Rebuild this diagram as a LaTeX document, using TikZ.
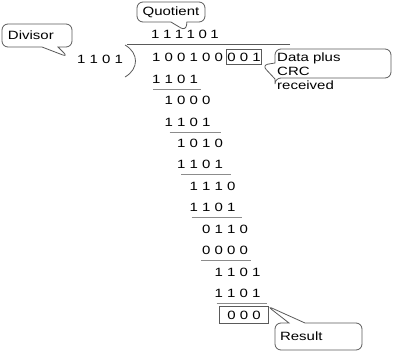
\documentclass[tikz,border=0pt]{standalone}
\usepackage{fontspec}
\setmainfont{Liberation Sans}[FakeStretch=1.25]
\usetikzlibrary{shapes.callouts}
\newcommand{\qgap}{\kern3.5pt}

\begin{document}
\begin{tikzpicture}[
  x=1pt, y=-1pt,
  font=\fontsize{12}{14}\selectfont,
  bits/.style={anchor=west, inner sep=0pt},
  bubble/.style={rectangle callout, rounded corners=6pt, draw=boxGray,
    line width=0.8pt, align=left, inner ysep=0pt, callout pointer width=16pt},
  framed/.style={draw=boxGray, line width=0.7pt, anchor=west},
  rule/.style={draw=ruleGray, line width=0.8pt},
]
\definecolor{boxGray}{HTML}{5A5A5A}
\definecolor{ruleGray}{HTML}{8C8C8C}
\useasboundingbox (0,0) rectangle (400,354);

% divisor, quotient and the received frame
\node[bits] (dvs) at (77,59) {1 1 0 1};
\node[bits] (quot) at (151,34) {1\qgap1\qgap1\qgap1\qgap0\qgap1};
\node[bits] (dvd) at (152,57) {1 0 0 1 0 0};
\node[framed, inner xsep=1pt, inner ysep=3.5pt] (crc) at (226,57) {0 0 1};
\draw[rule, draw=boxGray] (290,44) -- (127,44);
\draw[line width=0.8pt, draw=boxGray] (125,45) .. controls (139,53) and (139,69) .. (125,77);

% the subtractions, one digit to the right each time
\node[bits] (s1) at (152,79) {1 1 0 1};
\node[bits] (r1) at (164.5,100.5) {1 0 0 0};
\node[bits] (s2) at (164.5,122) {1 1 0 1};
\node[bits] (r2) at (177,143) {1 0 1 0};
\node[bits] (s3) at (177,164.5) {1 1 0 1};
\node[bits] (r3) at (189.5,186) {1 1 1 0};
\node[bits] (s4) at (189.5,207.5) {1 1 0 1};
\node[bits] (r4) at (202,229) {0 1 1 0};
\node[bits] (s5) at (202,250) {0 0 0 0};
\node[bits] (r5) at (214.5,272) {1 1 0 1};
\node[bits] (s6) at (214.5,293) {1 1 0 1};
\node[framed, inner xsep=8pt, inner ysep=4.5pt] (res) at (219,315) {0 0 0};

\draw[rule] ([xshift=1pt,yshift=-5.5pt]s1.south west) -- ++(48,0);
\draw[rule] ([xshift=5pt,yshift=-5.5pt]s2.south west) -- ++(51,0);
\draw[rule] ([xshift=4pt,yshift=-5.5pt]s3.south west) -- ++(50,0);
\draw[rule] ([xshift=2pt,yshift=-5.5pt]s4.south west) -- ++(50,0);
\draw[rule] ([xshift=-1pt,yshift=-5.5pt]s5.south west) -- ++(50,0);
\draw[rule] ([xshift=2pt,yshift=-5.5pt]s6.south west) -- ++(50,0);

% callouts
\node[bubble, minimum width=68pt, minimum height=20pt,
  callout absolute pointer={(186,31)}] (quotient) at (171,12) {Quotient};
\node[bubble, text width=58pt, inner xsep=6pt, minimum height=23pt,
  callout absolute pointer={(68,57)}] (divisor) at (37,35.5) {Divisor};
\node[bubble, minimum width=116pt, minimum height=29pt,
  callout absolute pointer={(crc.south east)}] (data) at (333,63.5) {};
\node[bits, align=left] (datatext) at (277,71) {Data plus\\CRC\\received};
\node[bubble, text width=77pt, inner xsep=5pt, minimum height=27pt,
  callout absolute pointer={([xshift=-2pt]res.north east)}] (result)
  at (318.5,336.5) {Result};
\end{tikzpicture}
\end{document}
